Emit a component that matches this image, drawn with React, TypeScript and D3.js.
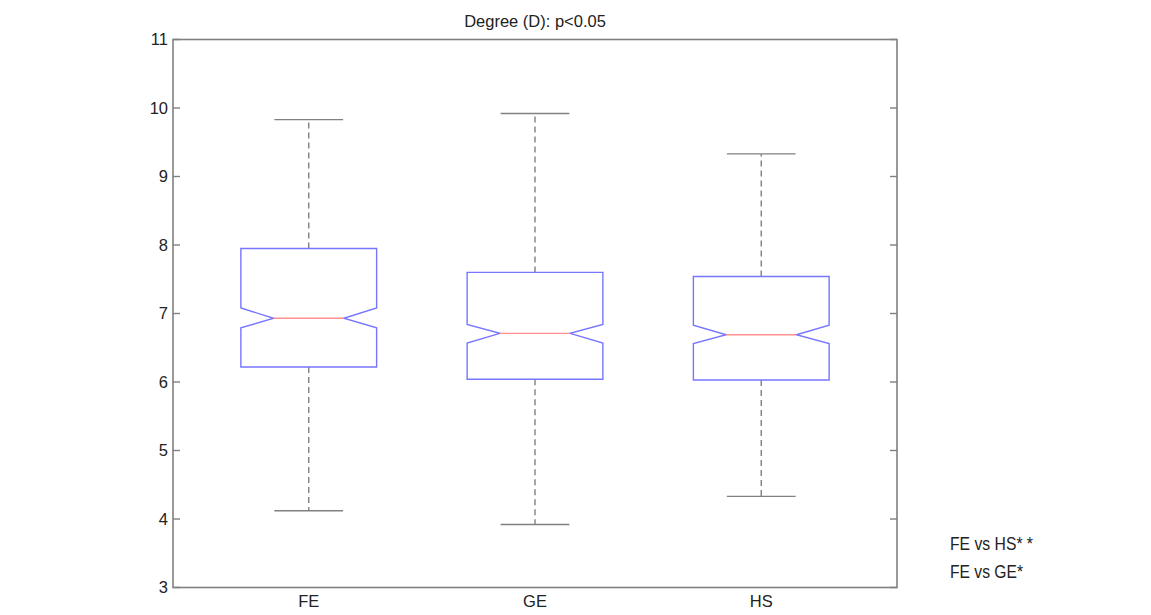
import React from "react";
import * as d3 from "d3";

// box stats
const groups = ["FE", "GE", "HS"];
const whiskerHigh = [9.83, 9.92, 9.33];
const q3 = [7.95, 7.6, 7.54];
const notchHigh = [7.08, 6.84, 6.83];
const medians = [6.93, 6.71, 6.69];
const notchLow = [6.79, 6.57, 6.56];
const q1 = [6.22, 6.04, 6.03];
const whiskerLow = [4.12, 3.92, 4.33];
const yTicks = [3, 4, 5, 6, 7, 8, 9, 10, 11];
const notes = ["FE vs HS* *", "FE vs GE*"];

const width = 1151;
const height = 615;
const margin = { left: 173, right: 254, top: 39.5, bottom: 27.5 };

const App = () => {
  const x = d3
    .scaleLinear()
    .domain([0.4, 3.6])
    .range([margin.left, width - margin.right]);
  const y = d3
    .scaleLinear()
    .domain([3, 11])
    .range([height - margin.bottom, margin.top]);

  const boxHalf = 0.3;
  const notchHalf = 0.155;
  const capHalf = 0.152;
  const axisColor = "#808080";
  const font = "'Liberation Sans', Arial, sans-serif";

  const boxPath = (i: number) => {
    const c = i + 1;
    const pts: [number, number][] = [
      [c - boxHalf, q1[i]],
      [c - boxHalf, notchLow[i]],
      [c - notchHalf, medians[i]],
      [c - boxHalf, notchHigh[i]],
      [c - boxHalf, q3[i]],
      [c + boxHalf, q3[i]],
      [c + boxHalf, notchHigh[i]],
      [c + notchHalf, medians[i]],
      [c + boxHalf, notchLow[i]],
      [c + boxHalf, q1[i]],
    ];
    const line = d3
      .line<[number, number]>()
      .x((d) => x(d[0]))
      .y((d) => y(d[1]));
    return line(pts) + "Z";
  };

  return (
    <svg
      width={width}
      height={height}
      style={{ position: "absolute", left: 0, top: 0, background: "#fff" }}
    >
      {/* title */}
      <text
        x={(x(0.4) + x(3.6)) / 2}
        y={26.5}
        textAnchor="middle"
        fontFamily={font}
        fontSize={16.5}
        fill="#222"
      >
        Degree (D): p&lt;0.05
      </text>

      {/* axes box */}
      <rect
        x={x(0.4)}
        y={y(11)}
        width={x(3.6) - x(0.4)}
        height={y(3) - y(11)}
        fill="none"
        stroke={axisColor}
        strokeWidth={1.6}
      />
      {yTicks.map((t) => (
        <g key={t}>
          <line x1={x(0.4)} x2={x(0.4) + 7} y1={y(t)} y2={y(t)} stroke={axisColor} strokeWidth={1.4} />
          <line x1={x(3.6)} x2={x(3.6) - 7} y1={y(t)} y2={y(t)} stroke={axisColor} strokeWidth={1.4} />
          <text
            x={x(0.4) - 5}
            y={y(t)}
            dy="0.36em"
            textAnchor="end"
            fontFamily={font}
            fontSize={16.5}
            fill="#222"
          >
            {t}
          </text>
        </g>
      ))}
      {groups.map((g, i) => (
        <text
          key={g}
          x={x(i + 1)}
          y={607}
          textAnchor="middle"
          fontFamily={font}
          fontSize={16.5}
          fill="#222"
        >
          {g}
        </text>
      ))}

      {/* boxes */}
      {groups.map((g, i) => {
        const c = i + 1;
        return (
          <g key={g}>
            <line
              x1={x(c)}
              x2={x(c)}
              y1={y(q3[i])}
              y2={y(whiskerHigh[i])}
              stroke={axisColor}
              strokeWidth={1.4}
              strokeDasharray="6,4"
            />
            <line
              x1={x(c)}
              x2={x(c)}
              y1={y(q1[i])}
              y2={y(whiskerLow[i])}
              stroke={axisColor}
              strokeWidth={1.4}
              strokeDasharray="6,4"
            />
            <line
              x1={x(c - capHalf)}
              x2={x(c + capHalf)}
              y1={y(whiskerHigh[i])}
              y2={y(whiskerHigh[i])}
              stroke={axisColor}
              strokeWidth={1.4}
            />
            <line
              x1={x(c - capHalf)}
              x2={x(c + capHalf)}
              y1={y(whiskerLow[i])}
              y2={y(whiskerLow[i])}
              stroke={axisColor}
              strokeWidth={1.4}
            />
            <path d={boxPath(i)} fill="none" stroke="#7676ff" strokeWidth={1.4} />
            <line
              x1={x(c - notchHalf)}
              x2={x(c + notchHalf)}
              y1={y(medians[i])}
              y2={y(medians[i])}
              stroke="#ff9090"
              strokeWidth={1.4}
            />
          </g>
        );
      })}

      {/* significance notes */}
      {notes.map((n, i) => (
        <text
          key={n}
          x={950}
          y={550 + i * 28}
          fontFamily={font}
          fontSize={18.5}
          fill="#222"
          textLength={i === 0 ? 83 : 73}
          lengthAdjust="spacingAndGlyphs"
        >
          {n}
        </text>
      ))}
    </svg>
  );
};

export default App;
